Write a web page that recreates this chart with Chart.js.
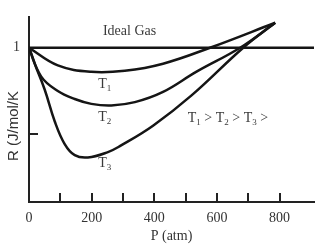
<!DOCTYPE html>
<html>
<head>
<meta charset="utf-8">
<script src="https://cdn.jsdelivr.net/npm/chart.js@4/dist/chart.umd.min.js"></script>
<style>
  body { margin: 0; background: #fff; }
  canvas { display: block; }
</style>
</head>
<body>
<canvas id="c" width="336" height="247"></canvas>
<script>
// data (P in atm, y relative to ideal gas = 1)
const idealP = [0, 910];
const idealY = [1, 1];

const t1P = [0, 92, 199, 306, 428, 578, 786];
const t1Y = [1, 0.898, 0.861, 0.867, 0.908, 1.0, 1.144];

const t2P = [0, 39, 92, 146, 199, 263, 338, 428, 535, 674, 786];
const t2Y = [1, 0.833, 0.75, 0.704, 0.676, 0.667, 0.686, 0.745, 0.862, 1.0, 1.144];

const t3P = [0, 18, 50, 82, 114, 146, 188, 252, 290, 396, 519, 684, 786];
const t3Y = [1, 0.908, 0.759, 0.576, 0.444, 0.38, 0.367, 0.398, 0.432, 0.55, 0.725, 1.0, 1.144];

const xTicks = [0, 100, 200, 300, 400, 500, 600, 700, 800];
const xLabels = ["0", "200", "400", "600", "800"];
const yTicks = [0.5, 1];
const yLabels = ["1"];

function pts(xs, ys){
    return xs.map((x, i) => ({ x: x, y: ys[i] }));
}

function ds(xs, ys){
    return {
        data: pts(xs, ys),
        borderColor: '#151515',
        borderWidth: 2.5,
        pointRadius: 0,
        fill: false,
        tension: 0.4
    };
}

// texte avec indices (T1, T2 ...)
function drawParts(ctx, parts, x, y){
    parts.forEach(p => {
        if(p[1]){
            ctx.font = '9px "Liberation Serif"';
            ctx.fillText(p[0], x, y + 4);
        } else {
            ctx.font = '14px "Liberation Serif"';
            ctx.fillText(p[0], x, y);
        }
        x += ctx.measureText(p[0]).width;
    });
}

const decor = {
    id: 'decor',
    afterDraw(chart){
        const ctx = chart.ctx;
        const xs = chart.scales.x, ys = chart.scales.y;
        const a = chart.chartArea;
        ctx.save();

        // petites graduations vers l'intérieur
        ctx.strokeStyle = '#222';
        ctx.lineWidth = 2;
        xTicks.slice(1).forEach(v => {
            const px = Math.round(xs.getPixelForValue(v));
            ctx.beginPath();
            ctx.moveTo(px, a.bottom);
            ctx.lineTo(px, a.bottom - 9);
            ctx.stroke();
        });
        const py = Math.round(ys.getPixelForValue(0.5));
        ctx.beginPath();
        ctx.moveTo(a.left, py);
        ctx.lineTo(a.left + 9, py);
        ctx.stroke();

        // textes
        ctx.fillStyle = '#3a3a3a';
        ctx.textBaseline = 'middle';
        ctx.textAlign = 'left';
        ctx.font = '14px "Liberation Serif"';
        ctx.fillText('Ideal Gas', xs.getPixelForValue(236), ys.getPixelForValue(1.093));
        const tx = xs.getPixelForValue(221);
        drawParts(ctx, [['T', 0], ['1', 1]], tx, ys.getPixelForValue(0.787));
        drawParts(ctx, [['T', 0], ['2', 1]], tx, ys.getPixelForValue(0.596));
        drawParts(ctx, [['T', 0], ['3', 1]], tx, ys.getPixelForValue(0.332));
        drawParts(ctx, [['T', 0], ['1', 1], [' > T', 0], ['2', 1], [' > T', 0], ['3', 1], [' >', 0]],
            xs.getPixelForValue(507), ys.getPixelForValue(0.593));

        // titre de l'axe Y
        ctx.translate(14, 126);
        ctx.rotate(-Math.PI / 2);
        ctx.textAlign = 'center';
        ctx.fillStyle = '#333';
        ctx.font = '15px "Liberation Sans"';
        ctx.fillText('R (J/mol/K', 0, 0);
        ctx.restore();
    }
};

new Chart(document.getElementById('c'), {
    type: 'line',
    data: {
        datasets: [ds(idealP, idealY), ds(t1P, t1Y), ds(t2P, t2Y), ds(t3P, t3Y)]
    },
    options: {
        responsive: false,
        animation: false,
        layout: { padding: { top: 10, right: 22, left: 0, bottom: 0 } },
        plugins: { legend: { display: false }, tooltip: { enabled: false } },
        scales: {
            x: {
                type: 'linear',
                min: 0,
                max: 910,
                afterFit: s => { s.height = 45; },
                afterBuildTicks: s => { s.ticks = xTicks.map(v => ({ value: v })); },
                grid: { display: false, drawTicks: false },
                border: { display: true, color: '#222', width: 2 },
                ticks: {
                    padding: 8,
                    color: '#333',
                    font: { family: 'Liberation Serif', size: 14 },
                    autoSkip: false,
                    maxRotation: 0,
                    callback: v => xLabels.includes(String(v)) ? String(v) : ''
                },
                title: {
                    display: true,
                    text: 'P (atm)',
                    color: '#333',
                    font: { family: 'Liberation Serif', size: 14 },
                    padding: { top: 0, bottom: 2 }
                }
            },
            y: {
                min: 0.11,
                max: 1.175,
                afterFit: s => { s.width = 29; },
                afterBuildTicks: s => { s.ticks = yTicks.map(v => ({ value: v })); },
                grid: { display: false, drawTicks: false },
                border: { display: true, color: '#222', width: 2 },
                ticks: {
                    padding: 9,
                    color: '#333',
                    font: { family: 'Liberation Serif', size: 14 },
                    callback: v => yLabels.includes(String(v)) ? String(v) : ''
                }
            }
        }
    },
    plugins: [decor]
});
</script>
</body>
</html>
